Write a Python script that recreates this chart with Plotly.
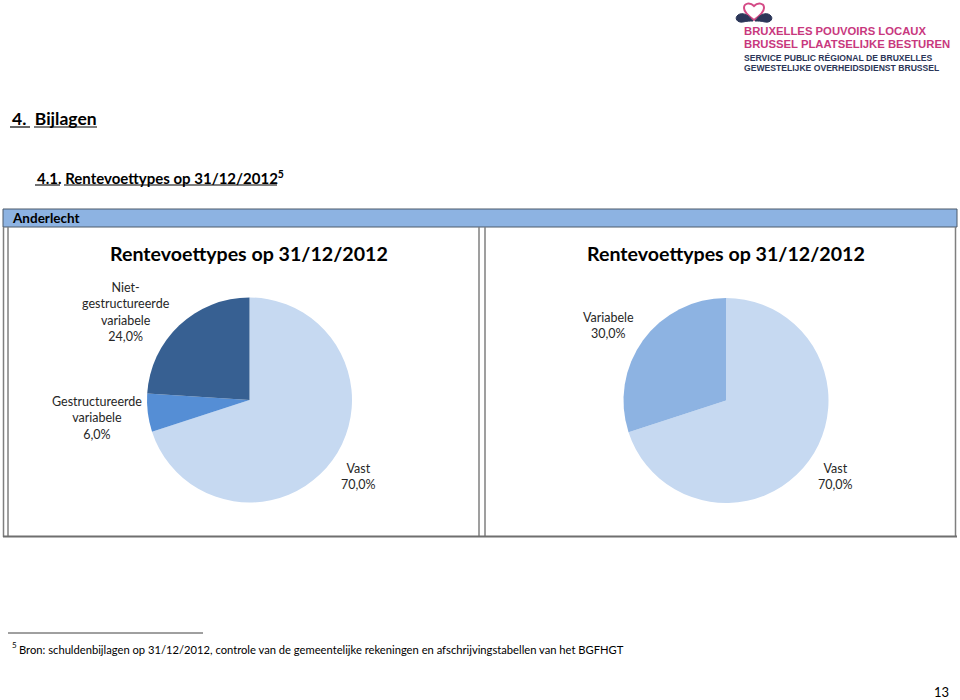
import plotly.graph_objects as go

# ---- data ----
labels_left = ["Vast", "Gestructureerde variabele", "Niet-gestructureerde variabele"]
display_left = ["Vast", "Gestructureerde<br>variabele", "Niet-<br>gestructureerde<br>variabele"]
values_left = [70.0, 6.0, 24.0]
colors_left = ["#c6d9f1", "#558ed5", "#376092"]

labels_right = ["Vast", "Variabele"]
display_right = ["Vast", "Variabele"]
values_right = [70.0, 30.0]
colors_right = ["#c6d9f1", "#8db3e2"]

chart_title = "Rentevoettypes op 31/12/2012"
region = "Anderlecht"

W, H = 960, 700


def px(x):
    return x / W


def py(y):
    return 1 - y / H


def fmt(v):
    return f"{v:.1f}".replace(".", ",") + "%"


fig = go.Figure()

# pies
def add_pie(labels, values, colors, cx, cy, r):
    fig.add_trace(go.Pie(
        labels=labels, values=values, sort=False, direction="clockwise", rotation=0,
        marker=dict(colors=colors, line=dict(width=0)),
        textinfo="none", hoverinfo="label+percent", showlegend=False,
        domain=dict(x=[px(cx - r), px(cx + r)], y=[py(cy + r), py(cy - r)]),
    ))

add_pie(labels_left, values_left, colors_left, 249.5, 400, 102.5)
add_pie(labels_right, values_right, colors_right, 726, 400.5, 102.5)

FONT = "Lato"
ann = []

def text(x, y, s, size, color="#1a1a1a", bold=False, xanchor="center", fam=FONT, yanchor="middle"):
    if bold:
        s = f"<b>{s}</b>"
    ann.append(dict(x=px(x), y=py(y), xref="paper", yref="paper", text=s, showarrow=False,
                    xanchor=xanchor, yanchor=yanchor, align="center",
                    font=dict(family=fam, size=size, color=color)))

# pie data labels
left_pos = [(358, 477), (97, 418), (126, 312)]
for (x, y), lab, v in zip(left_pos, display_left, values_left):
    text(x, y, f"{lab}<br>{fmt(v)}", 12.5, "#262626")
right_pos = [(835, 477), (608, 325)]
for (x, y), lab, v in zip(right_pos, display_right, values_right):
    text(x, y, f"{lab}<br>{fmt(v)}", 12.5, "#262626")

# chart titles
text(249, 253, chart_title, 19.6, "#000000", bold=True)
text(725.5, 253, chart_title, 19.6, "#000000", bold=True)

# headings
text(10, 118, "4.  Bijlagen", 17.5, "#000000", bold=True, xanchor="left")
text(35, 177, "4.1. Rentevoettypes op 31/12/2012<sup>5</sup>", 15, "#000000", bold=True, xanchor="left")
text(10, 218, region, 13.5, "#000000", bold=True, xanchor="left")

# footnote
text(10, 645, "5", 8, "#000000", xanchor="left")
text(17, 649, "Bron: schuldenbijlagen op 31/12/2012, controle van de gemeentelijke rekeningen en afschrijvingstabellen van het BGFHGT",
     11.2, "#000000", xanchor="left")
text(941, 692, "13", 13, "#000000")

# logo texts
LOGO = "Liberation Sans"
text(742, 31, "BRUXELLES POUVOIRS LOCAUX", 11.3, "#c8387e", bold=True, xanchor="left", fam=LOGO)
text(742, 43.5, "BRUSSEL PLAATSELIJKE BESTUREN", 11.3, "#c8387e", bold=True, xanchor="left", fam=LOGO)
text(742, 58, "SERVICE PUBLIC RÉGIONAL DE BRUXELLES", 8.6, "#2b3658", bold=True, xanchor="left", fam=LOGO)
text(742, 68, "GEWESTELIJKE OVERHEIDSDIENST BRUSSEL", 8.6, "#2b3658", bold=True, xanchor="left", fam=LOGO)

shapes = []

def line(x0, y0, x1, y1, color="#7f7f7f", w=1.5):
    shapes.append(dict(type="line", xref="paper", yref="paper", x0=px(x0), y0=py(y0), x1=px(x1), y1=py(y1),
                       line=dict(color=color, width=w)))

def rect(x0, y0, x1, y1, fill, lc="rgba(0,0,0,0)", w=0):
    shapes.append(dict(type="rect", xref="paper", yref="paper", x0=px(x0), y0=py(y0), x1=px(x1), y1=py(y1),
                       fillcolor=fill, line=dict(color=lc, width=w), layer="below"))

# header bar
rect(3, 209, 957, 227, "#8db3e2", "#4d5a6b", 1)
# chart boxes (double lines)
line(3.5, 227, 3.5, 537)
line(8, 227, 8, 536)
line(479, 227, 479, 536)
line(485, 227, 485, 536)
line(955.5, 227, 955.5, 536)
line(3, 536.5, 957, 536.5, "#6f6f6f", 2)

# underlines
line(10, 127, 30, 127, "#000000", 1.2)
line(34, 127, 97, 127, "#000000", 1.2)
line(35, 185, 60, 185, "#000000", 1.1)
line(64, 185, 277, 185, "#000000", 1.1)
# footnote rule
line(8, 633, 203, 633, "#404040", 1)

# logo heart & wings
def P(x, y):
    return f"{px(x)},{py(y)}"

heart = (f"M {P(754, 20)} C {P(747, 15)} {P(744, 12)} {P(744, 8)} C {P(744, 3)} {P(750, 2)} {P(754, 6)} "
         f"C {P(758, 2)} {P(764, 3)} {P(764, 8)} C {P(764, 12)} {P(761, 15)} {P(754, 20)} Z")
shapes.append(dict(type="path", xref="paper", yref="paper", path=heart,
                   line=dict(color="#d44a86", width=2), fillcolor="rgba(0,0,0,0)"))
wing_l = (f"M {P(753, 21)} C {P(748, 14)} {P(742, 12)} {P(738, 15)} C {P(734, 18)} {P(737, 23)} {P(743, 22)} "
          f"C {P(747, 21)} {P(750, 21)} {P(753, 21)} Z")
wing_r = (f"M {P(755, 21)} C {P(760, 14)} {P(766, 12)} {P(770, 15)} C {P(774, 18)} {P(771, 23)} {P(765, 22)} "
          f"C {P(761, 21)} {P(758, 21)} {P(755, 21)} Z")
for wp in (wing_l, wing_r):
    shapes.append(dict(type="path", xref="paper", yref="paper", path=wp,
                       line=dict(color="#2b3658", width=1), fillcolor="#2b3658"))

fig.update_layout(
    width=W, height=H, autosize=False,
    margin=dict(l=0, r=0, t=0, b=0),
    paper_bgcolor="#ffffff", plot_bgcolor="#ffffff",
    annotations=ann, shapes=shapes, showlegend=False,
)

fig.write_html("out.html", config={"displayModeBar": False},
               post_script="document.body.style.margin='0';document.body.style.overflow='hidden';")
